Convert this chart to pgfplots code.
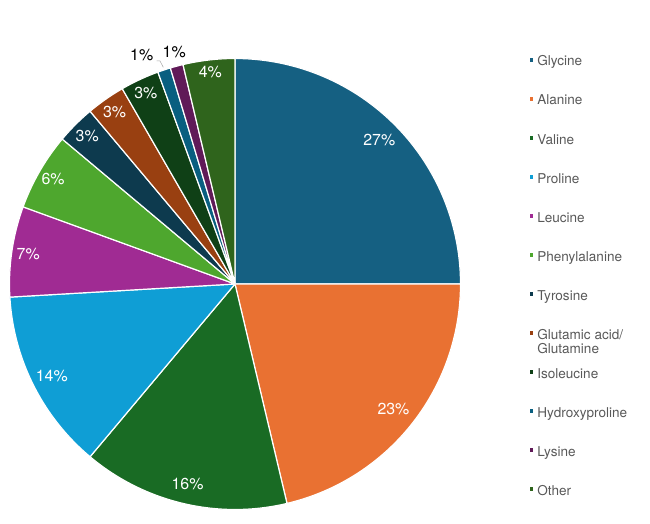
\documentclass[border=0pt]{standalone}
\usepackage{fontspec}
\setmainfont{TeX Gyre Heros}
\usepackage{pgfplots}
\usepackage{pgfplotstable}
\pgfplotsset{compat=1.18}
\definecolor{pc0}{HTML}{156082}
\definecolor{pc1}{HTML}{E97132}
\definecolor{pc2}{HTML}{196B24}
\definecolor{pc3}{HTML}{0F9ED5}
\definecolor{pc4}{HTML}{A02B93}
\definecolor{pc5}{HTML}{4EA72E}
\definecolor{pc6}{HTML}{0D3A4E}
\definecolor{pc7}{HTML}{994011}
\definecolor{pc8}{HTML}{0F4016}
\definecolor{pc9}{HTML}{095F80}
\definecolor{pc10}{HTML}{601A58}
\definecolor{pc11}{HTML}{2F641C}
\definecolor{legendgray}{HTML}{595959}

% values (percent labels) and label radius (px)
\pgfplotstableread{
v lr
27 204
23 202
16 206
14 205
7 209
6 210
3 209
3 210
3 211
1 0
1 0
4 213
}\piedata

\def\total{0}
\pgfplotsforeachungrouped \i in {0,...,11}{%
  \pgfplotstablegetelem{\i}{v}\of\piedata
  \pgfmathsetmacro\total{\total+\pgfplotsretval}%
}
\pgfmathsetmacro\degper{360/\total}

\tikzset{pielabel/.style={text=white, font=\fontsize{16}{19}\selectfont, inner sep=0pt}}

\begin{document}%
\begin{tikzpicture}
\begin{axis}[
  width=650bp, height=523bp, scale only axis,
  xmin=0, xmax=650, ymin=0, ymax=523,
  hide axis, clip=false,
  legend style={at={(axis cs:529.8,467)}, anchor=north west, draw=none, fill=none,
    inner sep=0pt, outer sep=0pt, row sep=26bp,
    font=\fontsize{13.6}{13.4}\selectfont, text=legendgray,
    nodes={inner sep=0pt, text height=10bp, text depth=3bp},
    /tikz/every odd column/.append style={column sep=4bp}},
  legend cell align=left,
  legend image code/.code={\fill[#1,draw=none] (0bp,0.7bp) rectangle (3.5bp,4.2bp);},
]
\def\cum{0}
\pgfplotsforeachungrouped \i in {0,...,11}{%
  \pgfplotstablegetelem{\i}{v}\of\piedata
  \let\val\pgfplotsretval
  \pgfmathsetmacro\a{90-\cum*\degper}%
  \pgfmathsetmacro\cum{\cum+\val}%
  \pgfmathsetmacro\b{90-\cum*\degper}%
  \edef\doplot{\noexpand\addplot[fill=pc\i, draw=white, line width=1.2pt, line join=round,
      domain=\b:\a, samples=80]
      ({235+225.5*cos(x)},{239+225.5*sin(x)}) -- (axis cs:235,239) -- cycle;}%
  \doplot
}
\def\cum{0}
\pgfplotsforeachungrouped \i in {0,...,11}{%
  \pgfplotstablegetelem{\i}{v}\of\piedata
  \let\val\pgfplotsretval
  \pgfplotstablegetelem{\i}{lr}\of\piedata
  \let\lr\pgfplotsretval
  \pgfmathsetmacro\a{90-\cum*\degper}%
  \pgfmathsetmacro\cum{\cum+\val}%
  \pgfmathsetmacro\b{90-\cum*\degper}%
  \pgfmathsetmacro\m{(\a+\b)/2}%
  \pgfmathsetmacro\lx{235+\lr*cos(\m)}%
  \pgfmathsetmacro\ly{239+\lr*sin(\m)}%
  \ifdim\lr pt>1pt
    \edef\donode{\noexpand\node[pielabel] at (axis cs:\lx,\ly) {\val\%};}%
    \donode
  \fi
}
\addplot[forget plot, draw=gray!70, line width=0.5pt] coordinates {(156.7,462) (160,462) (163.3,455.7)};
\node[pielabel, text=black] at (axis cs:141.7,467.7) {1\%};
\node[pielabel, text=black] at (axis cs:174.2,470.5) {1\%};
\legend{Glycine, Alanine, Valine, Proline, Leucine, Phenylalanine, Tyrosine,
  {\begin{tabular}[t]{@{}l@{}}Glutamic acid/\\Glutamine\end{tabular}},
  Isoleucine, Hydroxyproline, Lysine, Other}
\end{axis}
\pgfresetboundingbox
\path[use as bounding box] (current axis.south west) rectangle (current axis.north east);
\end{tikzpicture}%
\end{document}
